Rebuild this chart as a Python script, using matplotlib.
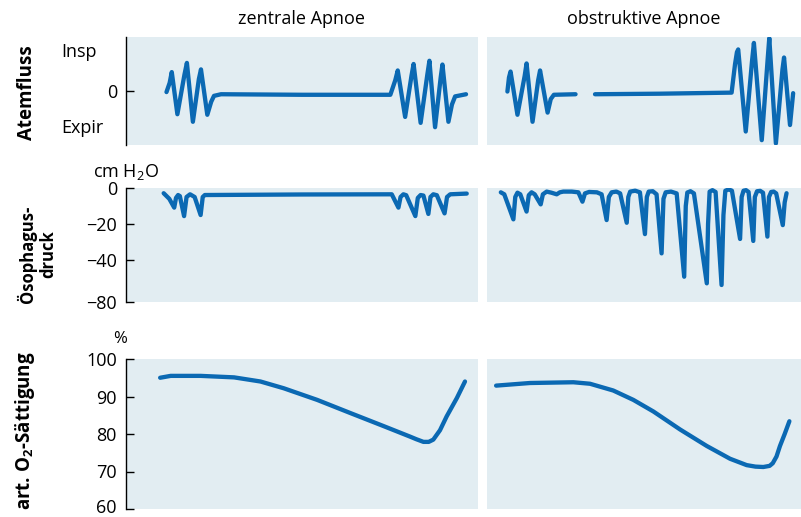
import numpy as np
import matplotlib
matplotlib.use("Agg")
import matplotlib.pyplot as plt
import matplotlib.transforms as mtransforms

plt.rcParams['font.family'] = ['Open Sans', 'DejaVu Sans']
plt.rcParams['mathtext.fontset'] = 'custom'
plt.rcParams['mathtext.rm'] = 'Open Sans'
plt.rcParams['mathtext.bf'] = 'Open Sans:bold'

# ---------------- data (time in % of panel width) ----------------
col_titles = ["zentrale Apnoe", "obstruktive Apnoe"]
row_labels = ["Atemfluss", "Ösophagus-\ndruck", "art. O$_\\mathbf{2}$-Sättigung"]

# Atemfluss (relative, Insp positive)
flow_c_t = [11.5, 12.4, 13.0, 14.6, 16.6, 17.3, 19.0, 20.7, 21.3, 23.1, 24.2, 25.0, 27.0, 50.0, 75.1,
            76.5, 77.2, 79.3, 81.1, 81.7, 83.7, 85.6, 86.2, 87.8, 89.4, 89.9, 91.6, 92.6, 93.5, 96.6]
flow_c_v = [-0.02, 0.15, 0.35, -0.43, 0.30, 0.52, -0.57, 0.22, 0.40, -0.44, -0.20, -0.09, -0.06, -0.07, -0.07,
            0.20, 0.38, -0.48, 0.28, 0.50, -0.59, 0.30, 0.56, -0.67, 0.25, 0.49, -0.57, -0.25, -0.10, -0.06]
flow_o_t1 = [6.5, 7.0, 7.5, 9.7, 12.0, 12.6, 14.5, 16.3, 16.9, 19.3, 20.3, 21.3, 28.2]
flow_o_v1 = [-0.01, 0.25, 0.36, -0.44, 0.28, 0.51, -0.57, 0.20, 0.38, -0.40, -0.15, -0.07, -0.06]
flow_o_t2 = [34.4, 55.0, 77.9, 79.0, 79.6, 80.0, 82.4, 84.4, 85.0, 87.5, 89.4, 89.9, 92.0,
             94.1, 94.6, 96.5, 97.5]
flow_o_v2 = [-0.06, -0.05, -0.03, 0.50, 0.72, 0.77, -0.75, 0.55, 0.89, -0.91, 0.60, 0.98, -0.97,
             0.40, 0.62, -0.63, -0.04]

# Ösophagusdruck (cm H2O)
pes_c_t = [10.7, 12.3, 13.7, 14.2, 14.8, 15.3, 16.5, 17.2, 18.2, 19.5, 21.2, 21.8, 22.4, 50.0, 75.5,
           77.4, 78.0, 78.8, 79.6, 82.2, 82.9, 83.7, 84.5, 85.9, 86.5, 87.3, 88.3, 90.5, 91.2, 92.1, 96.8]
pes_c_v = [-2.9, -6.0, -10.9, -5.5, -3.9, -4.5, -15.6, -5.0, -3.5, -5.0, -15.0, -5.0, -3.9, -3.6, -3.5,
           -10.9, -5.0, -3.5, -4.0, -15.6, -5.5, -3.9, -4.2, -14.4, -5.0, -3.5, -4.0, -14.1, -5.0, -3.5, -3.1]
pes_o_t = [4.4, 5.5, 8.4, 9.0, 9.7, 10.6, 12.6, 13.3, 14.2, 15.2, 17.1, 17.8, 19.0, 20.5, 22.2,
           23.2, 24.3, 27.0, 29.1, 30.4, 31.2, 32.5, 35.0, 36.5, 38.1, 38.8, 39.7, 41.2, 42.4, 44.5,
           45.0, 45.6, 47.2, 48.7, 50.3, 50.9, 51.5, 52.8, 54.0, 55.6, 56.2, 56.9, 58.6, 60.4, 62.8,
           63.3, 63.8, 64.8, 65.9, 70.0, 70.4, 70.9, 71.8, 72.8, 74.7, 75.3, 75.9, 77.0, 78.0, 80.6,
           81.1, 81.7, 82.5, 83.3, 84.8, 85.3, 86.0, 87.0, 87.9, 89.3, 89.8, 90.5, 91.3, 92.1, 94.2,
           94.8, 95.4]
pes_o_v = [-2.4, -3.5, -17.4, -5.0, -2.6, -3.5, -13.1, -4.0, -2.4, -3.5, -9.1, -3.5, -2.0, -2.6, -3.5,
           -2.4, -2.0, -2.0, -2.4, -7.6, -3.0, -2.2, -2.4, -3.5, -17.8, -5.0, -2.4, -2.0, -3.0, -19.3,
           -5.0, -2.0, -1.5, -2.4, -25.6, -5.0, -2.0, -1.8, -3.5, -36.3, -6.0, -2.4, -2.0, -3.0, -55.9,
           -10.0, -2.5, -1.8, -3.0, -62.2, -20.0, -2.0, -1.2, -2.2, -63.8, -15.0, -1.5, -0.8, -1.5, -28.3,
           -5.0, -1.5, -1.2, -2.2, -29.4, -5.0, -1.8, -1.6, -2.6, -27.0, -5.0, -2.2, -2.0, -3.0, -20.6,
           -8.0, -2.9]

# art. O2-Sättigung (%)
sat_c_t = [9.7, 12.7, 21.2, 30.7, 38.2, 44.8, 54.3, 63.7, 73.2, 80.7, 82.5, 84.5, 86.0, 87.3,
           89.2, 91.1, 94.0, 96.3]
sat_c_v = [95.0, 95.5, 95.5, 95.1, 94.0, 92.2, 89.1, 85.6, 82.1, 79.3, 78.6, 77.9, 77.9, 78.5,
           81.0, 84.7, 89.6, 94.0]
sat_o_t = [2.9, 13.7, 27.5, 32.8, 40.2, 46.6, 53.0, 61.5, 70.0, 77.4, 82.7, 85.5, 88.0, 90.0,
           91.0, 92.2, 93.3, 94.8, 96.3]
sat_o_v = [92.9, 93.6, 93.8, 93.4, 91.6, 89.1, 86.0, 81.2, 76.8, 73.4, 71.7, 71.3, 71.2, 71.5,
           72.2, 74.0, 76.8, 80.0, 83.4]

pes_ticks = [0, -20, -40, -80]
sat_ticks = [100, 90, 80, 70, 60]

# ---------------- style ----------------
BG = '#e2edf2'
LC = '#0b69b3'
LW = 3.1
FS = 13

W, H = 801, 517
fig = plt.figure(figsize=(W / 100, H / 100), dpi=100)

cols = [(126, 478), (487, 801)]
rows = [(37, 145), (188, 302), (359, 509)]


def mk(c, r):
    x0, x1 = cols[c]
    y0, y1 = rows[r]
    ax = fig.add_axes([x0 / W, 1 - y1 / H, (x1 - x0) / W, (y1 - y0) / H])
    ax.set_facecolor(BG)
    for s in ['top', 'right', 'bottom']:
        ax.spines[s].set_visible(False)
    ax.spines['left'].set_visible(c == 0)
    ax.spines['left'].set_linewidth(1.0)
    ax.set_xticks([])
    ax.set_xlim(0, 100)
    ax.tick_params(axis='y', direction='in', length=5.5, width=1.0, pad=6.5,
                   labelsize=FS)
    return ax


# piecewise scale for oesophageal pressure (compressed below -40)
K = 23.3 / 40.0


def fwd(y):
    y = np.asarray(y, dtype=float)
    return np.where(y >= -40, y, -40 + (y + 40) * K)


def inv(v):
    v = np.asarray(v, dtype=float)
    return np.where(v >= -40, v, -40 + (v + 40) / K)


kw = dict(color=LC, lw=LW, solid_joinstyle='round', solid_capstyle='round')

# Row 1
for c in range(2):
    ax = mk(c, 0)
    ax.set_ylim(-1, 1)
    if c == 0:
        ax.plot(flow_c_t, flow_c_v, **kw)
        ax.set_yticks([0])
        ax.set_yticklabels(['0'])
        tr = ax.get_yaxis_transform()
        ax.text(-0.185, 0.72, 'Insp', transform=tr, ha='left', va='center', fontsize=FS)
        ax.text(-0.185, -0.69, 'Expir', transform=tr, ha='left', va='center', fontsize=FS)
    else:
        ax.plot(flow_o_t1, flow_o_v1, **kw)
        ax.plot(flow_o_t2, flow_o_v2, **kw)
        ax.set_yticks([])
    ax.set_title(col_titles[c], fontsize=FS, pad=9)

# Row 2
for c in range(2):
    ax = mk(c, 1)
    ax.set_yscale('function', functions=(fwd, inv))
    ax.set_ylim(-80, 0)
    ax.minorticks_off()
    if c == 0:
        ax.plot(pes_c_t, pes_c_v, **kw)
        ax.set_yticks(pes_ticks)
        ax.set_yticklabels(['0', '\u221220', '\u221240', '\u221280'])
        ax.text(-0.095, 1.14, 'cm H$_\\mathregular{2}$O', transform=ax.transAxes,
                ha='left', va='center', fontsize=FS)
    else:
        ax.plot(pes_o_t, pes_o_v, **kw)
        ax.set_yticks([])
    ax.tick_params(axis='y', direction='in', length=5.5, width=1.0, pad=6.5,
                   labelsize=FS)

# Row 3
for c in range(2):
    ax = mk(c, 2)
    ax.set_ylim(60, 100)
    if c == 0:
        ax.plot(sat_c_t, sat_c_v, **kw)
        ax.set_yticks(sat_ticks)
        ax.set_yticklabels([str(t) for t in sat_ticks])
        ax.text(-0.018, 1.135, '%', transform=ax.transAxes,
                ha='center', va='center', fontsize=FS - 1)
        # keep the bottom label fully inside the figure
        lab = ax.get_yticklabels()[-1]
        lab.set_transform(lab.get_transform() +
                          mtransforms.ScaledTranslation(0, 2.5 / 72, fig.dpi_scale_trans))
    else:
        ax.plot(sat_o_t, sat_o_v, **kw)
        ax.set_yticks([])

# Row labels
fig.text(27 / W, 1 - 93 / H, row_labels[0], rotation=90, ha='center', va='center',
         fontsize=FS + 0.5, fontweight='bold')
fig.text(37 / W, 1 - 254 / H, row_labels[1], rotation=90, ha='center', va='center',
         fontsize=FS - 1, fontweight='bold', multialignment='center', linespacing=1.1)
fig.text(25 / W, 1 - 431 / H, row_labels[2], rotation=90, ha='center', va='center',
         fontsize=FS + 0.5, fontweight='bold')

fig.savefig('out.png', dpi=100)
